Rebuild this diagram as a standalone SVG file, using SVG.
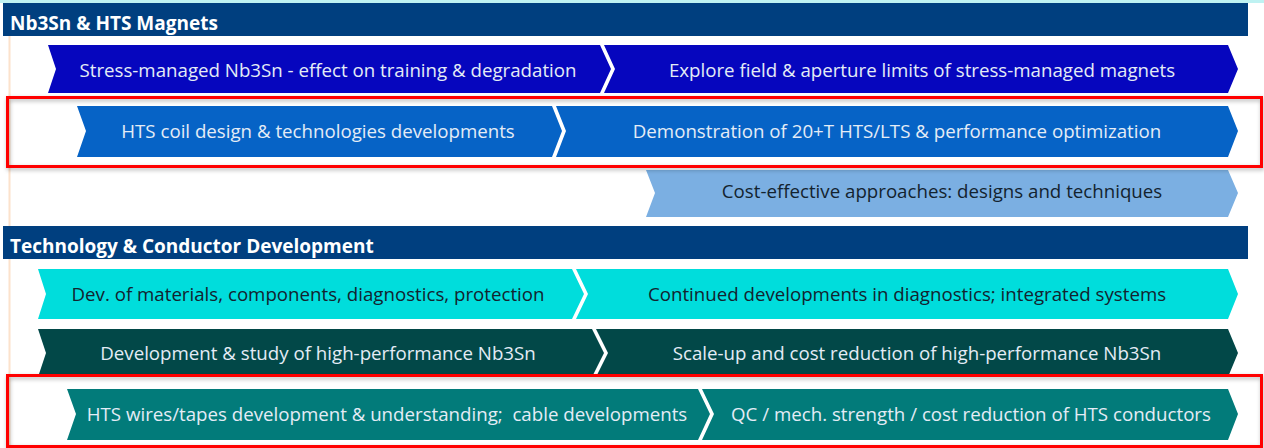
<svg xmlns="http://www.w3.org/2000/svg" width="1264" height="448" viewBox="0 0 1264 448">
  <defs>
    <filter id="shadow" x="-5%" y="-20%" width="110%" height="140%">
      <feDropShadow dx="1" dy="2" stdDeviation="2" flood-color="#000" flood-opacity="0.3"/>
    </filter>
  </defs>
  <style>
    .hdr { fill: #003F7F; }
    .hdr-t { font-family: "Open Sans", "Liberation Sans", sans-serif; font-weight: 700; font-size: 19px; fill: #FFFFFF; }
    .lbl { font-family: "Open Sans", "Liberation Sans", sans-serif; font-size: 18.7px; text-anchor: middle; white-space: pre; }
    .light { fill: #E4ECF6; }
    .dark { fill: #13232F; }
    .focus { fill: none; stroke: #FF0000; stroke-width: 3; filter: url(#shadow); }
  </style>

  <!-- background -->
  <rect x="0" y="0" width="1264" height="448" fill="#FFFFFF"/>
  <rect x="0" y="0" width="1264" height="3" fill="#BFF2F2"/>
  <line x1="9.5" y1="36" x2="9.5" y2="448" stroke="#FCE2CC" stroke-width="2"/>

  <!-- section: magnets -->
  <g id="hdr-magnets">
    <rect class="hdr" x="3" y="3" width="1245" height="33"/>
    <text class="hdr-t" x="10" y="30">Nb3Sn &amp; HTS Magnets</text>
  </g>

  <g id="stress-managed">
    <polygon points="48,45 600,45 611,69 600,93 48,93 56,69" fill="#0606BE"/>
    <text class="lbl light" x="328" y="77">Stress-managed Nb3Sn - effect on training &amp; degradation</text>
  </g>
  <g id="explore-limits">
    <polygon points="604,45 1228,45 1238,69 1228,93 604,93 615,69" fill="#0606BE"/>
    <text class="lbl light" x="922" y="77">Explore field &amp; aperture limits of stress-managed magnets</text>
  </g>

  <g id="hts-coil">
    <polygon points="77,106 552,106 562,131 552,157 77,157 86,131" fill="#0663C6"/>
    <text class="lbl light" x="318" y="138">HTS coil design &amp; technologies developments</text>
  </g>
  <g id="demo-20t">
    <polygon points="556,106 1228,106 1238,131 1228,157 556,157 566,131" fill="#0663C6"/>
    <text class="lbl light" x="897" y="138">Demonstration of 20+T HTS/LTS &amp; performance optimization</text>
  </g>

  <g id="cost-effective">
    <polygon points="646,170 1228,170 1238,193 1228,217 646,217 655,193" fill="#7BAFE2"/>
    <text class="lbl dark" x="942" y="198">Cost-effective approaches: designs and techniques</text>
  </g>

  <!-- section: technology & conductor -->
  <g id="hdr-technology">
    <rect class="hdr" x="3" y="226" width="1245" height="33"/>
    <text class="hdr-t" x="10" y="253">Technology &amp; Conductor Development</text>
  </g>

  <g id="materials">
    <polygon points="38,269 572,269 584,294 572,319 38,319 46,294" fill="#00DDDC"/>
    <text class="lbl dark" x="308" y="301">Dev. of materials, components, diagnostics, protection</text>
  </g>
  <g id="diagnostics">
    <polygon points="576,269 1228,269 1238,294 1228,319 576,319 588,294" fill="#00DDDC"/>
    <text class="lbl dark" x="907" y="301">Continued developments in diagnostics; integrated systems</text>
  </g>

  <g id="nb3sn-study">
    <polygon points="38,329 592,329 604,353 592,377 38,377 46,353" fill="#024848"/>
    <text class="lbl light" x="318" y="360">Development &amp; study of high-performance Nb3Sn</text>
  </g>
  <g id="nb3sn-scaleup">
    <polygon points="596,329 1228,329 1238,353 1228,377 596,377 608,353" fill="#024848"/>
    <text class="lbl light" x="917" y="360">Scale-up and cost reduction of high-performance Nb3Sn</text>
  </g>

  <g id="hts-wires">
    <polygon points="67,389 698,389 710,414 698,440 67,440 76,414" fill="#027B7A"/>
    <text class="lbl light" x="387" y="421">HTS wires/tapes development &amp; understanding;  cable developments</text>
  </g>
  <g id="hts-qc">
    <polygon points="702,389 1228,389 1238,414 1228,440 702,440 714,414" fill="#027B7A"/>
    <text class="lbl light" x="971" y="421">QC / mech. strength / cost reduction of HTS conductors</text>
  </g>

  <!-- highlight frames -->
  <g id="connectors">
    <rect class="focus" x="7.5" y="97.5" width="1254" height="69"/>
    <rect class="focus" x="7.5" y="375.5" width="1254" height="71"/>
  </g>
</svg>
